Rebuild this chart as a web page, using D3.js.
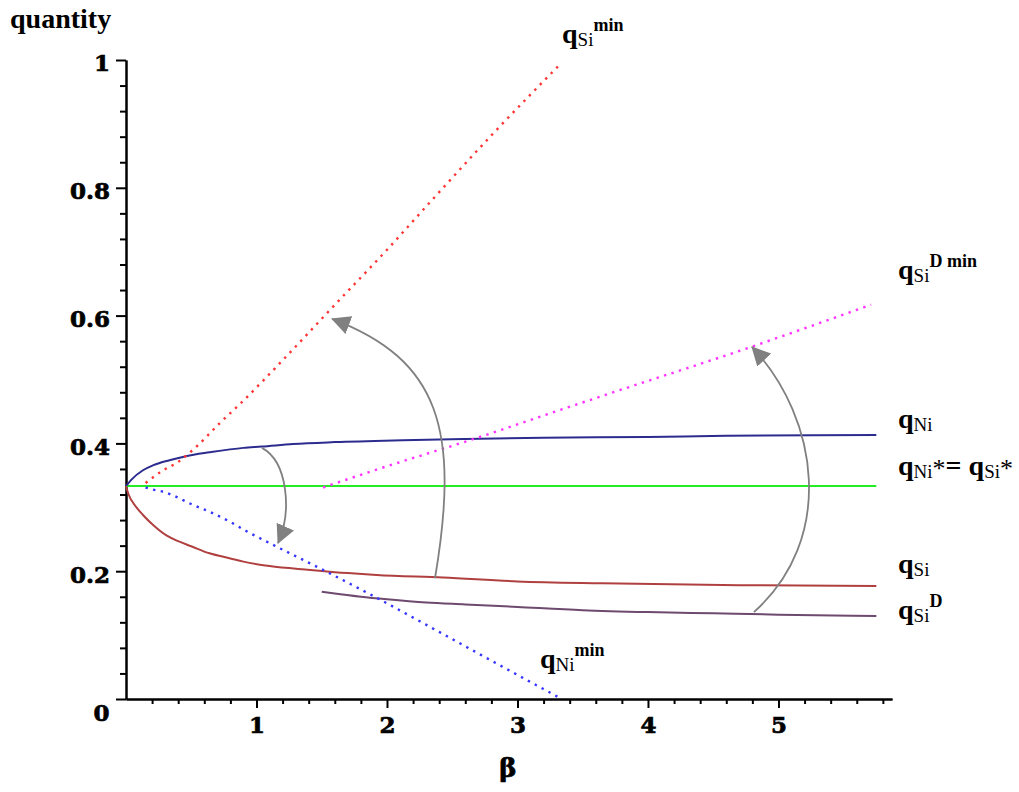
<!DOCTYPE html>
<html>
<head>
<meta charset="utf-8">
<script src="https://cdn.jsdelivr.net/npm/d3@7"></script>
<style>
  body { margin: 0; background: #fff; }
  svg { display: block; }
</style>
</head>
<body>
<div id="chart"></div>
<script>
// curves, [beta, quantity]
var qStar = [[0, 0.3333], [5.75, 0.3333]];
var qNi = [[0, 0.333], [0.04, 0.343], [0.13, 0.358], [0.21, 0.366], [0.34, 0.374], [0.46, 0.380],
  [0.64, 0.386], [0.9, 0.393], [1.04, 0.395], [1.28, 0.399], [1.6, 0.402], [2.12, 0.405],
  [2.6, 0.407], [3.2, 0.409], [4.0, 0.410], [4.6, 0.412], [5.75, 0.413]];
var qSi = [[0, 0.333], [0.02, 0.320], [0.08, 0.300], [0.13, 0.288], [0.21, 0.272], [0.31, 0.256],
  [0.4, 0.247], [0.5, 0.239], [0.64, 0.228], [0.8, 0.220], [0.9, 0.215], [1.1, 0.208],
  [1.41, 0.202], [1.7, 0.197], [1.92, 0.194], [2.43, 0.190], [3.0, 0.184], [3.65, 0.181],
  [4.7, 0.178], [5.75, 0.177]];
var qSiD = [[1.5, 0.168], [1.6, 0.165], [1.8, 0.160], [2.0, 0.156], [2.3, 0.151], [2.6, 0.148],
  [3.0, 0.144], [3.5, 0.139], [4.0, 0.136], [4.5, 0.134], [5.0, 0.132], [5.75, 0.130]];
var qSiMin = [[0.15, 0.338], [0.27, 0.356], [0.4, 0.371], [0.55, 0.397], [0.72, 0.432],
  [0.89, 0.465], [1.2, 0.53], [1.61, 0.619], [2.0, 0.703], [2.35, 0.782], [2.8, 0.882], [3.32, 0.992]];
var qNiMin = [[0.15, 0.331], [0.2, 0.328], [0.29, 0.324], [0.39, 0.316], [0.49, 0.306],
  [0.64, 0.293], [0.8, 0.277], [0.92, 0.263], [1.1, 0.244], [1.51, 0.202], [1.86, 0.165],
  [2.4, 0.105], [2.8, 0.060], [3.34, 0.0]];
var qSiDMin = [[1.51, 0.331], [1.92, 0.359], [2.62, 0.404], [3.63, 0.473], [4.79, 0.551], [5.71, 0.617]];

// gray arrows as cubic curves: start, control 1, control 2, tip  [beta, quantity]
var arrowDown = [[1.042, 0.393], [1.241, 0.371], [1.272, 0.293], [1.165, 0.244]];
var arrowMid = [[2.368, 0.189], [2.559, 0.421], [2.406, 0.531], [1.579, 0.595]];
var arrowRight = [[4.812, 0.136], [5.433, 0.249], [5.318, 0.437], [4.797, 0.551]];

// ticks
var xTicks = [1, 2, 3, 4, 5];
var yTicks = [0.2, 0.4, 0.6, 0.8, 1];
var yTickLabels = ["0.2", "0.4", "0.6", "0.8", "1"];

// curve labels: [text, role]
var lblSiMin = [["q", "m"], ["Si", "sub"], ["min", "sup"]];
var lblSiDMin = [["q", "m"], ["Si", "sub"], ["D min", "sup"]];
var lblNi = [["q", "m"], ["Ni", "sub"]];
var lblStar = [["q", "m"], ["Ni", "sub"], ["*", "star"], ["= ", "m"], ["q", "m"], ["Si", "sub"], ["*", "star"]];
var lblSi = [["q", "m"], ["Si", "sub"]];
var lblSiD = [["q", "m"], ["Si", "sub"], ["D", "sup"]];
var lblNiMin = [["q", "m"], ["Ni", "sub"], ["min", "sup"]];

var W = 1019, H = 792;
var svg = d3.select("#chart").append("svg")
    .attr("width", W)
    .attr("height", H);

var x = d3.scaleLinear().domain([0, 5.87]).range([126, 892]);
var y = d3.scaleLinear().domain([0, 1]).range([699, 60]);

var serif = "'Liberation Serif', 'Times New Roman', serif";
var tickFont = "'DejaVu Serif', serif";

// minor ticks
var xMinor = d3.range(1, 30).map(function(i) { return i * 0.2; })
    .filter(function(v) { return Math.abs(v - Math.round(v)) > 0.01; });
var yMinor = d3.range(1, 25).map(function(i) { return i * 0.04; })
    .filter(function(v) { return Math.abs(v / 0.2 - Math.round(v / 0.2)) > 0.01; });

svg.append("g")
    .attr("transform", "translate(0,699)")
    .call(d3.axisBottom(x).tickValues(xMinor).tickSize(5).tickSizeOuter(0).tickFormat(""))
    .call(function(g) { g.selectAll("line, path").attr("stroke-width", 2); });

var xAxis = svg.append("g")
    .attr("transform", "translate(0,699)")
    .call(d3.axisBottom(x).tickValues(xTicks).tickSize(9).tickSizeOuter(0).tickPadding(9).tickFormat(d3.format("d")));
xAxis.attr("font-family", tickFont).attr("font-size", 23).attr("font-weight", "bold");
xAxis.selectAll("line, path").attr("stroke-width", 2);

svg.append("g")
    .attr("transform", "translate(126,0)")
    .call(d3.axisLeft(y).tickValues(yMinor).tickSize(6).tickSizeOuter(0).tickFormat(""))
    .call(function(g) { g.selectAll("line, path").attr("stroke-width", 2); });

var yAxis = svg.append("g")
    .attr("transform", "translate(126,0)")
    .call(d3.axisLeft(y).tickValues([0].concat(yTicks)).tickSize(10).tickSizeOuter(0).tickPadding(6)
      .tickFormat(function(d) { var i = yTicks.indexOf(d); return i < 0 ? "" : yTickLabels[i]; }));
yAxis.attr("font-family", tickFont).attr("font-size", 23).attr("font-weight", "bold");
yAxis.selectAll("line, path").attr("stroke-width", 2);
yAxis.selectAll("text").attr("dy", "0.47em");

// heavier digits, like the original bitmap font
svg.selectAll("g text").attr("stroke", "#000").attr("stroke-width", 0.7);

// shared origin label
svg.append("text")
    .attr("x", 101.5).attr("y", 721)
    .attr("text-anchor", "middle")
    .attr("font-family", tickFont).attr("font-size", 23).attr("font-weight", "bold")
    .attr("stroke", "#000").attr("stroke-width", 0.7)
    .text("0");

// axis titles
svg.append("text")
    .attr("x", 10).attr("y", 28)
    .attr("font-family", serif).attr("font-size", 28).attr("font-weight", "bold")
    .text("quantity");

svg.append("text")
    .attr("x", 508).attr("y", 777)
    .attr("text-anchor", "middle")
    .attr("font-family", tickFont).attr("font-size", 26).attr("font-weight", "bold")
    .attr("stroke", "#000").attr("stroke-width", 0.7)
    .text("β");

// curves
var line = d3.line()
    .x(function(d) { return x(d[0]); })
    .y(function(d) { return y(d[1]); })
    .curve(d3.curveMonotoneX);

var series = [
  { data: qStar, color: "#22ee22", dotted: false },
  { data: qNi, color: "#2c2c8e", dotted: false },
  { data: qSi, color: "#b04040", dotted: false },
  { data: qSiD, color: "#6e4a6e", dotted: false },
  { data: qSiMin, color: "#ff3535", dotted: true },
  { data: qNiMin, color: "#3535ff", dotted: true },
  { data: qSiDMin, color: "#ff35ff", dotted: true }
];

svg.selectAll(".curve")
    .data(series)
    .enter().append("path")
    .attr("class", "curve")
    .attr("d", function(d) { return line(d.data); })
    .attr("fill", "none")
    .attr("stroke", function(d) { return d.color; })
    .attr("stroke-width", function(d) { return d.dotted ? 2.4 : 2; })
    .attr("stroke-dasharray", function(d) { return d.dotted ? "2.4 5.4" : null; });

// arrows
svg.append("defs").append("marker")
    .attr("id", "head")
    .attr("markerUnits", "userSpaceOnUse")
    .attr("viewBox", "0 -10 19 20")
    .attr("refX", 18).attr("refY", 0)
    .attr("markerWidth", 19).attr("markerHeight", 20)
    .attr("orient", "auto")
    .append("path")
    .attr("d", "M0,-9.5L19,0L0,9.5Z")
    .attr("fill", "#808080");

function arrowPath(c) {
  var p = d3.path();
  p.moveTo(x(c[0][0]), y(c[0][1]));
  p.bezierCurveTo(x(c[1][0]), y(c[1][1]), x(c[2][0]), y(c[2][1]), x(c[3][0]), y(c[3][1]));
  return p.toString();
}

svg.selectAll(".arrow")
    .data([arrowDown, arrowMid, arrowRight])
    .enter().append("path")
    .attr("class", "arrow")
    .attr("d", arrowPath)
    .attr("fill", "none")
    .attr("stroke", "#808080")
    .attr("stroke-width", 1.8)
    .attr("marker-end", "url(#head)");

// curve labels
function addLabel(parts, px, py) {
  var t = svg.append("text")
      .attr("x", px).attr("y", py)
      .attr("font-family", serif)
      .attr("font-weight", "bold");
  parts.forEach(function(p) {
    var s = t.append("tspan").text(p[0]);
    if (p[1] === "sub") s.attr("y", py + 3).attr("font-size", 19).attr("font-weight", "normal");
    else if (p[1] === "sup") s.attr("y", py - 12).attr("font-size", 18);
    else if (p[1] === "star") s.attr("y", py + 2).attr("font-size", 26).attr("font-weight", "normal");
    else s.attr("y", py).attr("font-size", 28);
  });
}

addLabel(lblSiMin, 562, 43);
addLabel(lblSiDMin, 898, 279);
addLabel(lblNi, 898, 428);
addLabel(lblStar, 898, 475);
addLabel(lblSi, 898, 573);
addLabel(lblSiD, 898, 619);
addLabel(lblNiMin, 540, 668);
</script>
</body>
</html>
